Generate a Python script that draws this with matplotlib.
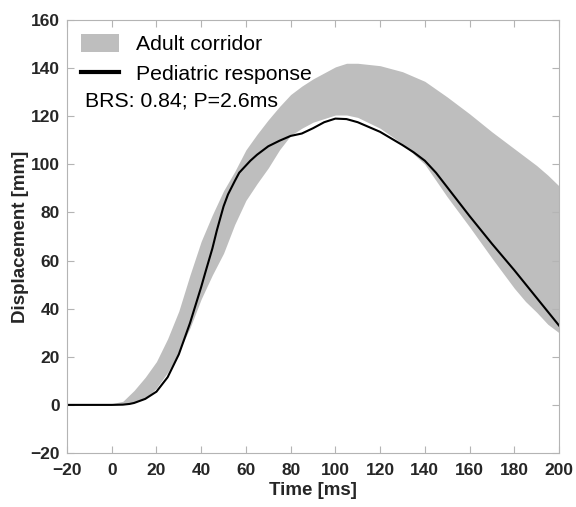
import numpy as np
import matplotlib
matplotlib.use("Agg")
import matplotlib.pyplot as plt

plt.rcParams['font.family'] = ['Liberation Sans', 'DejaVu Sans']

# adult corridor bounds (time in ms, displacement in mm)
t_corr = [-20, 0, 5, 10, 15, 20, 25, 30, 35, 40, 45, 50, 55, 60, 65, 70, 75, 80, 85, 90,
          100, 105, 110, 120, 130, 140, 150, 160, 170, 180, 185, 190, 195, 200]
upper = [0, 0.5, 1.5, 6, 11.5, 18, 27.5, 39, 54, 68, 79, 89, 97, 106, 112.5, 118.5, 124, 129,
         132.5, 135.5, 140.5, 142, 142, 141, 138.5, 134.5, 128, 121, 113.5, 106.5, 103, 99.5, 95.5, 91]
lower = [0, 0, 0.3, 1, 2.5, 7, 13.5, 22, 32, 44, 54, 63, 75, 85, 92, 98.5, 106, 112, 115, 117.5,
         120.5, 120.5, 119.5, 115, 108.5, 100, 86.5, 74, 61, 48.5, 43, 38.5, 33.5, 30]

# pediatric response
t_ped = [-20, 0, 5, 8, 10, 15, 20, 25, 30, 35, 40, 42, 45, 47, 50, 52, 55, 57, 60, 62, 65, 70,
         75, 80, 85, 90, 95, 100, 105, 110, 120, 130, 135, 140, 145, 150, 160, 170, 180, 190, 200]
ped = [0, 0, 0.1, 0.4, 0.8, 2.5, 5.5, 11.5, 21, 34, 49, 55.5, 65, 72.5, 82.5, 87.5, 93, 96.5,
       99.5, 101.5, 104, 107.5, 109.8, 111.8, 112.8, 115, 117.5, 119, 118.8, 117.5, 113.5,
       108, 105, 101.5, 96.5, 90.5, 78.5, 67, 56, 44.5, 33]

gray = '#bebebe'
axcol = '#b4b4b4'

fig = plt.figure(figsize=(5.76, 5.07), dpi=100)
ax = fig.add_axes([0.1163, 0.1065, 0.8542, 0.8541])

ax.fill_between(t_corr, lower, upper, color=gray, linewidth=0, label='Adult corridor')
ax.plot(t_ped, ped, color='black', linewidth=1.5, label='Pediatric response')

ax.set_xlim(-20, 200)
ax.set_ylim(-20, 160)
ax.set_xticks(np.arange(-20, 201, 20))
ax.set_yticks(np.arange(-20, 161, 20))

for s in ax.spines.values():
    s.set_color(axcol)
ax.tick_params(direction='in', length=5, color=axcol, top=True, right=True,
               labelsize=12.5, labelcolor='#262626')
ax.tick_params(axis='x', pad=7)
ax.tick_params(axis='y', pad=5)
for lab in ax.get_xticklabels() + ax.get_yticklabels():
    lab.set_fontweight('bold')

ax.set_xlabel('Time [ms]', fontsize=13.5, fontweight='bold', color='#262626', labelpad=3)
ax.set_ylabel('Displacement [mm]', fontsize=13.5, fontweight='bold', color='#262626', labelpad=1)

leg = ax.legend(loc='upper left', frameon=False, fontsize=15.3, handlelength=1.8,
                handleheight=0.95, handletextpad=0.8, labelspacing=0.45,
                borderaxespad=0.45, borderpad=0.2)
for line in leg.get_lines():
    line.set_linewidth(3)

ax.text(0.037, 0.813, 'BRS: 0.84; P=2.6ms', transform=ax.transAxes, fontsize=15.3,
        va='center', ha='left', color='black')

fig.savefig('out.png', dpi=100)
